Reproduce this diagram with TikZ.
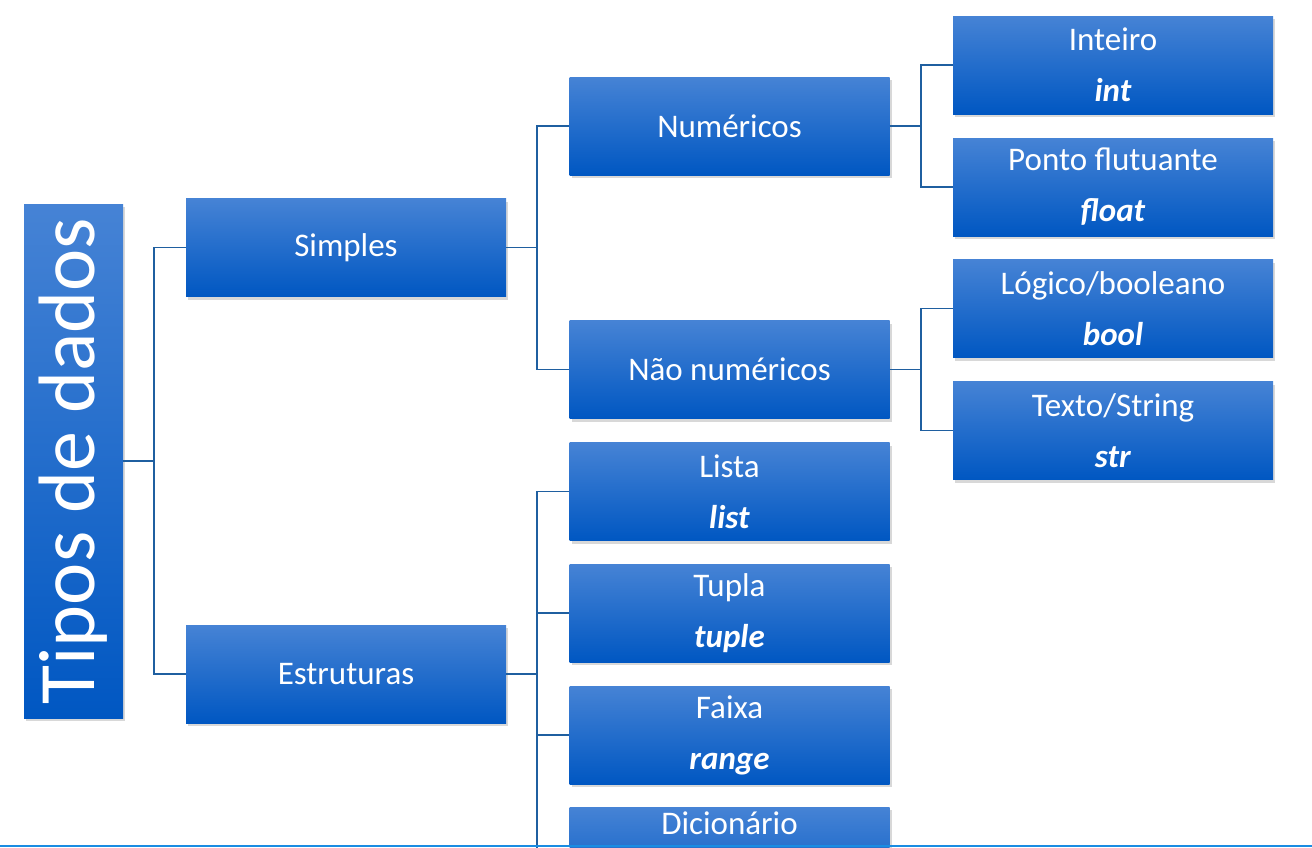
\documentclass[tikz,border=0pt]{standalone}
\usepackage{fontspec}
\usepackage{graphicx}
\setmainfont{Carlito}
\usetikzlibrary{shadows}
\definecolor{boxtop}{HTML}{4683D5}
\definecolor{boxmid}{HTML}{0068CE}
\definecolor{boxbot}{HTML}{0057C2}
\definecolor{linkblue}{HTML}{1F5FA0}
\definecolor{edgeblue}{HTML}{1A8CE2}
\begin{document}
\begin{tikzpicture}[x=1pt, y=-1pt,
    tipo/.style={rectangle, inner sep=0pt, minimum width=320pt, minimum height=98pt,
        top color=boxtop, middle color=boxmid, bottom color=boxbot, text=white,
        align=center, font=\fontsize{33}{51}\selectfont,
        drop shadow={shadow xshift=2pt, shadow yshift=-3pt, opacity=0.3}},
    elo/.style={draw=linkblue, line width=1.8pt}]
    \clip (0, 0) rectangle (1312, 847);
    \fill[white] (0, 0) rectangle (1312, 847);
    % raiz
    \node[tipo, minimum width=99pt, minimum height=514pt,
        font=\fontsize{80}{80}\selectfont] (tipos) at(73.5, 461)
        {\rotatebox{90}{Tipos de dados}};
    % segundo nivel
    \node[tipo] (simp) at(346, 247.5) {Simples};
    \node[tipo] (estr) at(346, 674) {Estruturas};
    % terceiro nivel
    \node[tipo] (num) at(729.5, 126) {Numéricos};
    \node[tipo] (nnum) at(729.5, 369.5) {Não numéricos};
    \node[tipo] (lista) at(729.5, 491.5) {Lista\\\textbf{\textit{list}}};
    \node[tipo] (tupla) at(729.5, 613) {Tupla\\\textbf{\textit{tuple}}};
    \node[tipo] (faixa) at(729.5, 735) {Faixa\\\textbf{\textit{range}}};
    \node[tipo] (dic) at(729.5, 856) {Dicionário\\\strut};
    % folhas
    \node[tipo] (int) at(1113, 65) {Inteiro\\\textbf{\textit{int}}};
    \node[tipo] (float) at(1113, 187) {Ponto flutuante\\\textbf{\textit{float}}};
    \node[tipo] (bool) at(1113, 308.5) {Lógico/booleano\\\textbf{\textit{bool}}};
    \node[tipo] (str) at(1113, 430.5) {Texto/String\\\textbf{\textit{str}}};
    % ligacoes
    \draw[elo] (tipos.east) -- ++(31, 0) |- (simp.west);
    \draw[elo] (tipos.east) -- ++(31, 0) |- (estr.west);
    \draw[elo] (simp.east) -- ++(31, 0) |- (num.west);
    \draw[elo] (simp.east) -- ++(31, 0) |- (nnum.west);
    \draw[elo] (num.east) -- ++(31, 0) |- (int.west);
    \draw[elo] (num.east) -- ++(31, 0) |- (float.west);
    \draw[elo] (nnum.east) -- ++(31, 0) |- (bool.west);
    \draw[elo] (nnum.east) -- ++(31, 0) |- (str.west);
    \draw[elo] (estr.east) -- ++(31, 0) |- (lista.west);
    \draw[elo] (estr.east) -- ++(31, 0) |- (tupla.west);
    \draw[elo] (estr.east) -- ++(31, 0) |- (faixa.west);
    \draw[elo] (estr.east) -- ++(31, 0) |- (dic.west);
    \draw[edgeblue, line width=2pt] (0, 846) -- (1312, 846);
\end{tikzpicture}
\end{document}
